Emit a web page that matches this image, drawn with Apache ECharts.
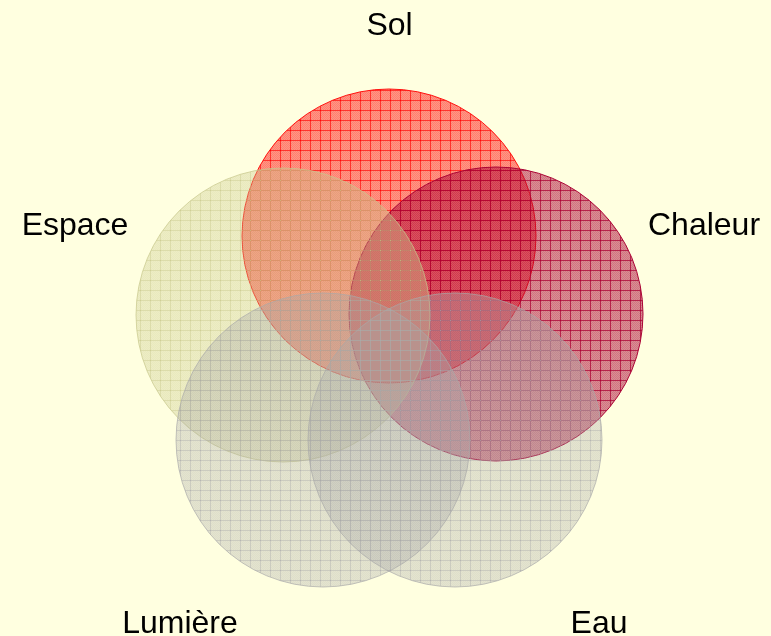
<!DOCTYPE html>
<html><head><meta charset="utf-8">
<script src="https://cdn.jsdelivr.net/npm/echarts@6/dist/echarts.min.js"></script>
<style>html,body{margin:0;padding:0;background:#ffffe0}#c{width:771px;height:636px}</style>
</head><body><div id="c"></div>
<script>
// Sets, in drawing order
const setNames = ['Sol', 'Chaleur', 'Espace', 'Lumière', 'Eau'];
const centerX = [389, 496, 283, 323, 455];
const centerY = [236, 314, 315, 440, 440];
const radius = [147, 147, 147, 147, 147];
const labelX = [389.5, 704, 75, 180, 599];
const labelY = [26.5, 226.5, 226.5, 624, 624];

// styles
const setRGB = ['255,0,0', '170,0,50', '200,200,140', '169,169,169', '169,169,169'];
const fillAlpha = [0.5, 0.54, 0.4, 0.38, 0.38];

function makePattern(rgb, a) {
  const c = document.createElement('canvas');
  c.width = 10; c.height = 10;
  const g = c.getContext('2d');
  for (let y = 0; y < 10; y++) for (let x = 0; x < 10; x++) {
    const aa = ((x + y) % 2 === 0) ? a : a * 0.82;
    g.fillStyle = 'rgba(' + rgb + ',' + aa + ')';
    g.fillRect(x, y, 1, 1);
  }
  g.clearRect(0, 0, 10, 1); g.clearRect(0, 0, 1, 10);
  g.fillStyle = 'rgba(' + rgb + ',' + Math.min(1, a * 1.6) + ')';
  g.fillRect(0, 0, 10, 1); g.fillRect(0, 0, 1, 10);
  return { image: c, repeat: 'repeat' };
}
const patterns = setRGB.map((c, i) => makePattern(c, fillAlpha[i]));

const circleData = setNames.map((n, i) => [centerX[i], centerY[i], radius[i], i]);
const labelData = setNames.map((n, i) => [labelX[i], labelY[i], i]);

const chart = echarts.init(document.getElementById('c'), null, { renderer: 'canvas' });
chart.setOption({
  backgroundColor: '#ffffe0',
  animation: false,
  grid: { left: 0, right: 0, top: 0, bottom: 0 },
  xAxis: { type: 'value', min: 0, max: 771, show: false },
  yAxis: { type: 'value', min: 0, max: 636, inverse: true, show: false },
  series: [
    {
      type: 'custom',
      data: circleData,
      renderItem: function (params, api) {
        const i = api.value(3);
        const p = api.coord([api.value(0), api.value(1)]);
        const s = api.size([api.value(2), api.value(2)]);
        return {
          type: 'circle',
          shape: { cx: p[0], cy: p[1], r: s[0] },
          style: {
            fill: patterns[i],
            stroke: 'rgba(' + setRGB[i] + ',' + Math.min(1, fillAlpha[i] * 1.8) + ')',
            lineWidth: 1
          }
        };
      }
    },
    {
      type: 'custom',
      data: labelData,
      renderItem: function (params, api) {
        const i = api.value(2);
        const p = api.coord([api.value(0), api.value(1)]);
        return {
          type: 'text',
          style: {
            text: setNames[i],
            x: p[0], y: p[1],
            fill: '#000',
            font: '32px "Liberation Sans", Arial, sans-serif',
            align: 'center',
            verticalAlign: 'middle'
          }
        };
      }
    }
  ]
});
</script>
</body></html>
